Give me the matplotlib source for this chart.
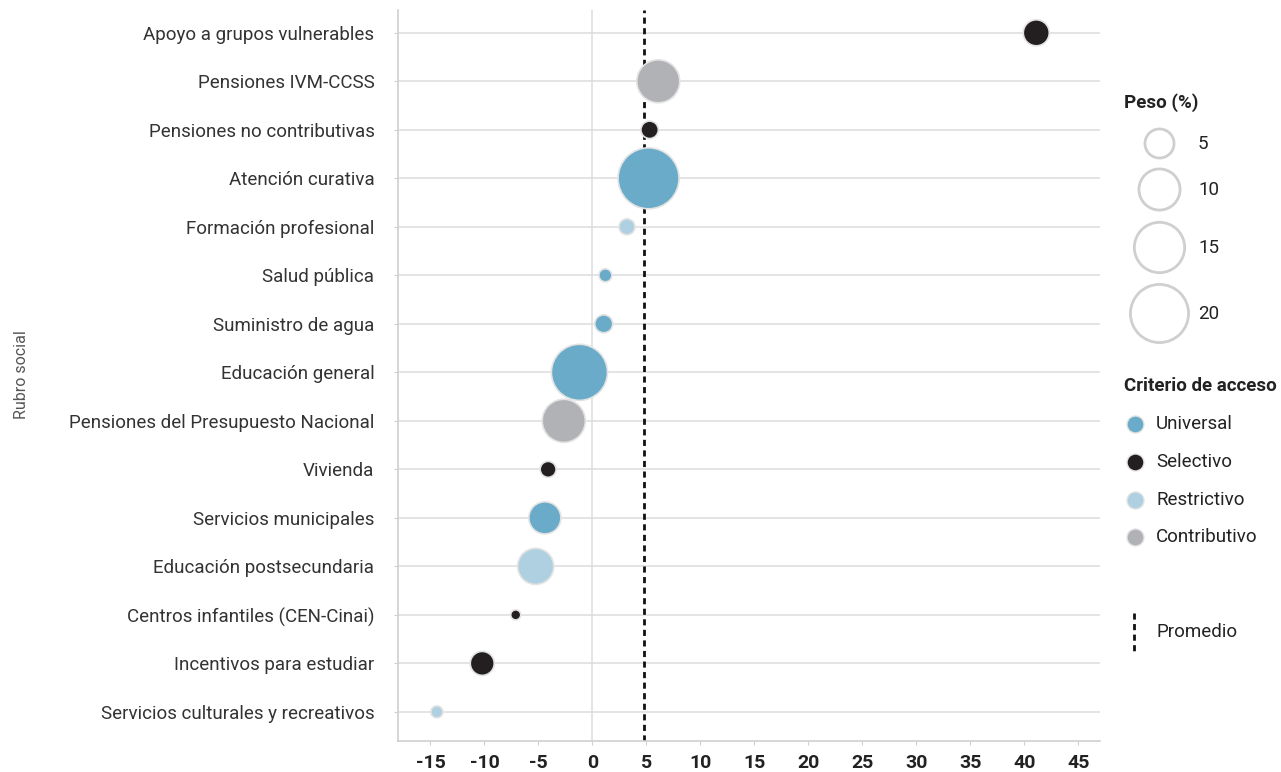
import matplotlib.pyplot as plt
import numpy as np

plt.rcParams['font.family'] = ['Roboto', 'DejaVu Sans']

rubros = ["Apoyo a grupos vulnerables", "Pensiones IVM-CCSS", "Pensiones no contributivas",
          "Atención curativa", "Formación profesional", "Salud pública", "Suministro de agua",
          "Educación general", "Pensiones del Presupuesto Nacional", "Vivienda",
          "Servicios municipales", "Educación postsecundaria", "Centros infantiles (CEN-Cinai)",
          "Incentivos para estudiar", "Servicios culturales y recreativos"]
variacion = [41.1, 6.1, 5.3, 5.2, 3.2, 1.2, 1.05, -1.2, -2.65, -4.1, -4.4, -5.25, -7.1, -10.2, -14.4]
peso = [4.0, 10.9, 1.8, 22.0, 1.5, 1.0, 1.9, 18.6, 11.0, 1.5, 6.1, 7.7, 0.6, 3.4, 0.85]
criterio = ["Selectivo", "Contributivo", "Selectivo", "Universal", "Restrictivo", "Universal",
            "Universal", "Universal", "Contributivo", "Selectivo", "Universal", "Restrictivo",
            "Selectivo", "Selectivo", "Restrictivo"]
promedio = 4.75

categorias = ["Universal", "Selectivo", "Restrictivo", "Contributivo"]
colores = {"Universal": "#69abc8", "Selectivo": "#231f20",
           "Restrictivo": "#aed0e0", "Contributivo": "#b1b2b6"}
peso_leyenda = [5, 10, 15, 20]
xticks = list(range(-15, 50, 5))


def area(v):
    # radius in px ~ 6.5*sqrt(v); 1 px = 0.72 pt at dpi 100
    return (1.44 * 6.5 * np.sqrt(v)) ** 2


W, H = 1281, 772
fig = plt.figure(figsize=(W / 100, H / 100), dpi=100)
ax = fig.add_axes([398 / W, 1 - 741 / H, (1100 - 398) / W, (741 - 10) / H])

y = np.arange(len(rubros))
ax.set_xlim(-18.0, 47.0)
ax.set_ylim(len(rubros) - 1 + 0.6, -0.47)

for yi in y:
    ax.axhline(yi, color="#dcdcdc", lw=1.1, zorder=0)
ax.axvline(0, color="#dcdcdc", lw=1.1, zorder=0)
ax.axvline(promedio, color="#111111", lw=2, ls=(0, (2.2, 1.6)), zorder=1)

ax.scatter(variacion, y, s=[area(p) for p in peso], c=[colores[c] for c in criterio],
           edgecolors="#e3e3e3", linewidths=1.2, zorder=3)

ax.set_yticks(y)
ax.set_yticklabels(rubros, fontsize=13.5, color="#333333")
ax.set_xticks(xticks)
ax.set_xticklabels([str(t) for t in xticks], fontsize=14, fontweight="semibold", color="#222222")
ax.tick_params(axis="y", length=3, color="#d0d0d0", pad=14)
ax.tick_params(axis="x", length=3, color="#d0d0d0", pad=6)
for s in ["top", "right"]:
    ax.spines[s].set_visible(False)
for s in ["left", "bottom"]:
    ax.spines[s].set_color("#d0d0d0")
    ax.spines[s].set_linewidth(1.2)

fig.text(22 / W, 1 - 375 / H, "Rubro social", rotation=90, va="center", ha="center",
         fontsize=11.5, color="#555555")

# legend drawn in pixel coordinates
lg = fig.add_axes([0, 0, 1, 1])
lg.set_xlim(0, W)
lg.set_ylim(H, 0)
lg.axis("off")

lg.text(1124, 103, "Peso (%)", fontsize=13.5, fontweight="bold", va="center", color="#222222")
ly = [143, 189, 247, 313]
for v, yy in zip(peso_leyenda, ly):
    lg.scatter([1159], [yy], s=area(v), facecolors="white", edgecolors="#cfcfcf", linewidths=2)
    lg.text(1198, yy + 1, str(v), fontsize=13.5, va="center", color="#222222")

lg.text(1124, 386, "Criterio de acceso", fontsize=13.5, fontweight="bold", va="center", color="#222222")
for cat, yy in zip(categorias, [424, 462, 500, 537]):
    lg.scatter([1135], [yy], s=(1.44 * 8.5) ** 2, color=colores[cat], edgecolors="#e3e3e3", linewidths=1)
    lg.text(1156, yy, cat, fontsize=13.5, va="center", color="#222222")

lg.plot([1134, 1134], [613, 651], color="#111111", lw=2, ls=(0, (2.2, 1.6)))
lg.text(1156, 632, "Promedio", fontsize=13.5, va="center", color="#222222")

fig.savefig("out.png", dpi=100)
